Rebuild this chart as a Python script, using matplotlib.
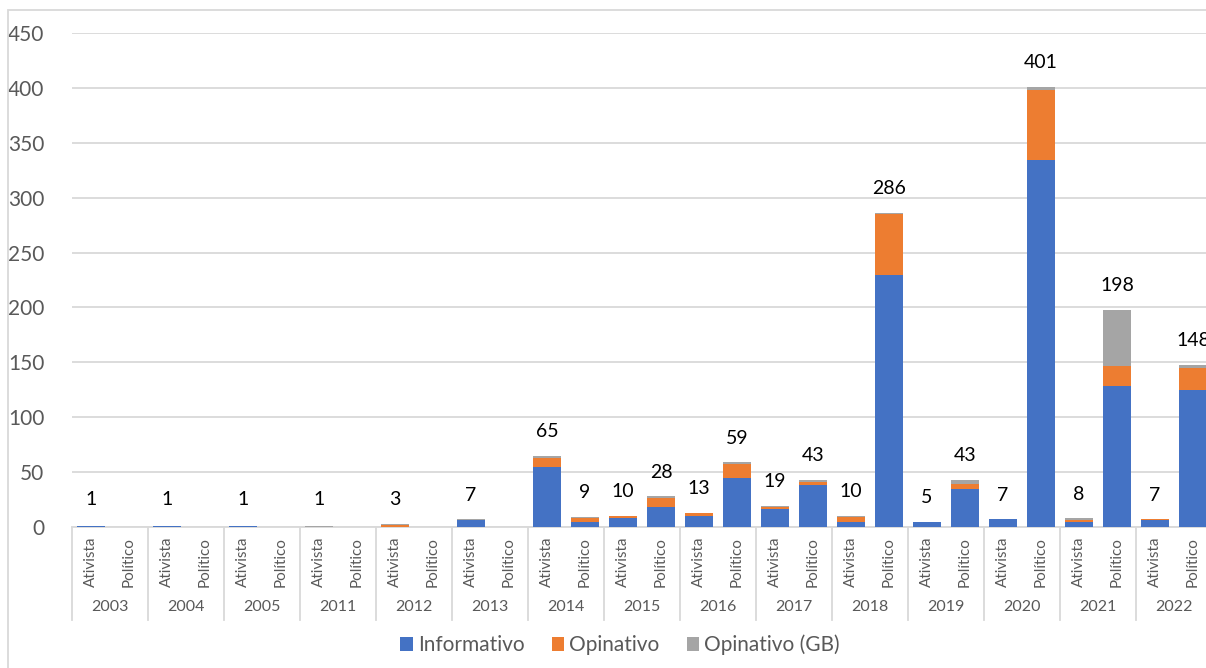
import numpy as np
import matplotlib.pyplot as plt
from matplotlib.patches import Rectangle
import matplotlib.transforms as mtransforms

plt.rcParams['font.family'] = ['Lato', 'DejaVu Sans']

# categories: each year has Ativista and Politico
years = ['2003', '2004', '2005', '2011', '2012', '2013', '2014', '2015',
         '2016', '2017', '2018', '2019', '2020', '2021', '2022']
subcats = ['Ativista', 'Político']

# values per (year, subcat), order: A, P, A, P, ...
informativo = [1, 0, 1, 0, 1, 0, 0, 0, 0, 0, 6, 0, 55, 5, 8, 18, 10, 45, 16, 38,
               5, 230, 5, 35, 7, 334, 5, 128, 6, 125]
opinativo = [0, 0, 0, 0, 0, 0, 0, 0, 2, 0, 0, 0, 8, 3, 2, 8, 3, 12, 2, 3,
             4, 55, 0, 4, 0, 64, 1, 19, 1, 20]
opinativo_gb = [0, 0, 0, 0, 0, 0, 1, 0, 1, 0, 1, 0, 2, 1, 0, 2, 0, 2, 1, 2,
                1, 1, 0, 4, 0, 3, 2, 51, 0, 3]

series = [('Informativo', informativo, '#4472C4'),
          ('Opinativo', opinativo, '#ED7D31'),
          ('Opinativo (GB)', opinativo_gb, '#A5A5A5')]

W, H = 1206, 668
fig = plt.figure(figsize=(W / 100, H / 100), dpi=100)
ax = fig.add_axes([72 / W, (H - 527) / H, 1140 / W, 494 / H])

n = len(informativo)
x = np.arange(n) + 0.5
bottom = np.zeros(n)
for name, vals, col in series:
    vals = np.array(vals, dtype=float)
    ax.bar(x, vals, width=0.76, bottom=bottom, color=col, label=name,
           edgecolor='none', zorder=3)
    bottom += vals

# total labels
for xi, tot in zip(x, bottom):
    if tot > 0:
        ax.text(xi, max(tot + 22, 25), f'{int(tot)}',
                ha='center', va='center', fontsize=14, color='#000000',
                zorder=4, clip_on=False)

ax.set_xlim(0, n)
ax.set_ylim(0, 450)
ax.set_yticks(np.arange(0, 451, 50))
ax.grid(axis='y', color='#D9D9D9', linewidth=1.3, zorder=0)
ax.tick_params(axis='y', length=0, pad=20, labelsize=15, labelcolor='#595959')

for s in ['left', 'right', 'top']:
    ax.spines[s].set_visible(False)
ax.spines['bottom'].set_color('#D9D9D9')
ax.spines['bottom'].set_linewidth(1.3)

ax.set_xticks(x)
ax.set_xticklabels(subcats * len(years), rotation=90, fontsize=11,
                   color='#595959', va='top')
ax.tick_params(axis='x', length=0, pad=7)

trans = mtransforms.blended_transform_factory(ax.transData, ax.transAxes)
for g in range(len(years) + 1):
    ax.plot([2 * g, 2 * g], [0, -0.188], transform=trans, color='#D9D9D9',
            linewidth=1.3, clip_on=False)
for g, yr in enumerate(years):
    ax.text(2 * g + 1, -0.162, yr, transform=trans, ha='center', va='center',
            fontsize=11.5, color='#595959')

# chart border
fig.patches.append(Rectangle((8 / W, -0.1), 1.2, (H - 10) / H + 0.1,
                             transform=fig.transFigure, fill=False,
                             edgecolor='#D9D9D9', linewidth=1.3))

fig.legend(loc='center', bbox_to_anchor=(620 / W, 1 - 645 / H), ncol=3,
           frameon=False, fontsize=15, handlelength=0.6, handleheight=0.6,
           handletextpad=0.25, columnspacing=1.3, labelcolor='#595959')

fig.savefig('out.png', dpi=100)
